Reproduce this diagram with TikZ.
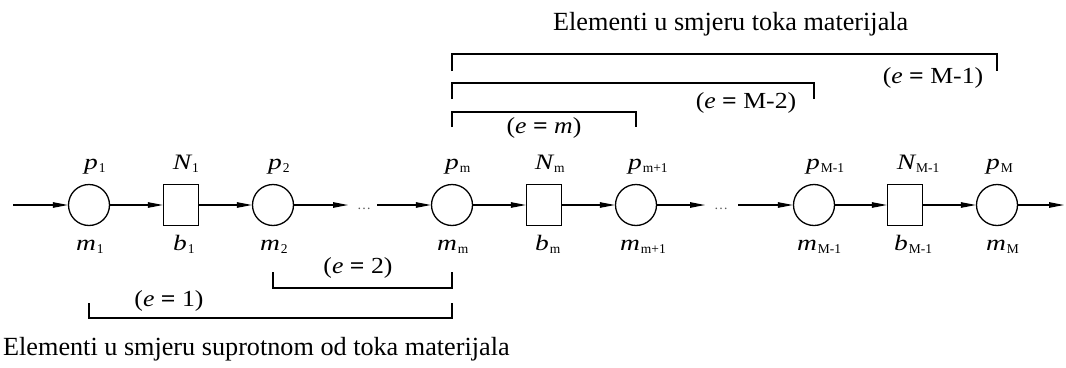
\documentclass[tikz,border=0pt]{standalone}
\usepackage{fontspec}
\setmainfont{Liberation Serif}
\newfontfamily\labfont[FakeStretch=1.25]{Liberation Serif}
\newfontfamily\efont[FakeStretch=1.12]{Liberation Serif}
\usetikzlibrary{arrows.meta,calc}
\newcommand\plab[2]{{\labfont\fontsize{22}{22}\selectfont\itshape #1\rlap{\kern1pt\raisebox{-3pt}{\normalfont\fontsize{13.5}{13.5}\selectfont #2}}}}
\newcommand\elab[1]{{\efont\fontsize{23}{23}\selectfont(\textit{e} \textbf{=} #1)}}
\begin{document}
\begin{tikzpicture}[x=1pt,y=-1pt,
  place/.style={circle,draw,line width=1.3pt,minimum size=41pt,inner sep=0pt},
  trans/.style={rectangle,draw,line width=1.3pt,minimum width=35pt,minimum height=41pt,inner sep=0pt},
  flow/.style={line width=1.1pt,-{Triangle[length=15pt,width=5.5pt]}},
  bracket/.style={line width=1.2pt},
  lab/.style={anchor=base,inner sep=0pt},
  eqlab/.style={anchor=base,inner sep=0pt},
  dotsn/.style={anchor=base,inner sep=0pt,text=black!65,font=\fontsize{14}{14}\selectfont},
  txt/.style={anchor=base west,inner sep=0pt,font=\fontsize{26.2}{30}\selectfont}]
\useasboundingbox (0,0) rectangle (1066,367);
% nodes
\node[place] (p1) at (89,205) {};
\node[trans] (n1) at (181,205) {};
\node[place] (p2) at (273,205) {};
\node[place] (pm) at (452,205) {};
\node[trans] (nm) at (544,205) {};
\node[place] (pm1) at (636,205) {};
\node[place] (pM1) at (814,205) {};
\node[trans] (nM1) at (905,205) {};
\node[place] (pM) at (997,205) {};
\coordinate (in) at (13,205);
\coordinate (out) at (1064,205);
\coordinate (a1) at (348,205);
\coordinate (b1) at (377,205);
\coordinate (a2) at (705,205);
\coordinate (b2) at (738,205);
\node[dotsn] (d1) at (364,209) {…};
\node[dotsn] (d2) at (721,209) {…};
% flow
\draw[flow] (in) -- (p1);
\draw[flow] (p1) -- (n1);
\draw[flow] (n1) -- (p2);
\draw[flow] (p2) -- (a1);
\draw[flow] (b1) -- (pm);
\draw[flow] (pm) -- (nm);
\draw[flow] (nm) -- (pm1);
\draw[flow] (pm1) -- (a2);
\draw[flow] (b2) -- (pM1);
\draw[flow] (pM1) -- (nM1);
\draw[flow] (nM1) -- (pM);
\draw[flow] (pM) -- (out);
% top labels
\node[lab] (lp1) at ($(p1)+(2,-36)$) {\plab{p}{1}};
\node[lab] (ln1) at ($(n1)+(1,-36)$) {\plab{N}{1}};
\node[lab] (lp2) at ($(p2)+(2,-36)$) {\plab{p}{2}};
\node[lab] (lpm) at ($(pm)+(0,-36)$) {\plab{p}{m}};
\node[lab] (lnm) at ($(nm)+(0,-36)$) {\plab{N}{m}};
\node[lab] (lpm1) at ($(pm1)+(-1,-36)$) {\plab{p}{m+1}};
\node[lab] (lpM1) at ($(pM1)+(-1,-36)$) {\plab{p}{M-1}};
\node[lab] (lnM1) at ($(nM1)+(1,-36)$) {\plab{N}{M-1}};
\node[lab] (lpM) at ($(pM)+(-4,-36)$) {\plab{p}{M}};
% bottom labels
\node[lab] (lm1) at ($(p1)+(-3,45)$) {\plab{m}{1}};
\node[lab] (lb1) at ($(n1)+(-1,45)$) {\plab{b}{1}};
\node[lab] (lm2) at ($(p2)+(-3,45)$) {\plab{m}{2}};
\node[lab] (lmm) at ($(pm)+(-5,45)$) {\plab{m}{m}};
\node[lab] (lbm) at ($(nm)+(-2,45)$) {\plab{b}{m}};
\node[lab] (lmm1) at ($(pm1)+(-6,45)$) {\plab{m}{m+1}};
\node[lab] (lmM1) at ($(pM1)+(-7,45)$) {\plab{m}{M-1}};
\node[lab] (lbM1) at ($(nM1)+(-4,45)$) {\plab{b}{M-1}};
\node[lab] (lmM) at ($(pM)+(-1,45)$) {\plab{m}{M}};
% brackets downstream
\draw[bracket] (pm |- 0,71) -- (pm |- 0,54) -- (pM |- 0,54) -- (pM |- 0,71);
\draw[bracket] (pm |- 0,99) -- (pm |- 0,83) -- (pM1 |- 0,83) -- (pM1 |- 0,99);
\draw[bracket] (pm |- 0,127) -- (pm |- 0,112) -- (pm1 |- 0,112) -- (pm1 |- 0,127);
% brackets upstream
\draw[bracket] (p2 |- 0,272) -- (p2 |- 0,288) -- (pm |- 0,288) -- (pm |- 0,272);
\draw[bracket] (p1 |- 0,303) -- (p1 |- 0,318) -- (pm |- 0,318) -- (pm |- 0,303);
% bracket labels
\node[eqlab] (e1) at (933,83) {\elab{M-1}};
\node[eqlab] (e2) at (746,108) {\elab{M-2}};
\node[eqlab] (e3) at (544,133) {\elab{\textit{m}}};
\node[eqlab] (e4) at (358,273) {\elab{2}};
\node[eqlab] (e5) at (169,306) {\elab{1}};
% texts
\node[txt] (title) at (553,30) {Elementi u smjeru toka materijala};
\node[txt] (bottom) at (3,355) {Elementi u smjeru suprotnom od toka materijala};
\end{tikzpicture}
\end{document}
